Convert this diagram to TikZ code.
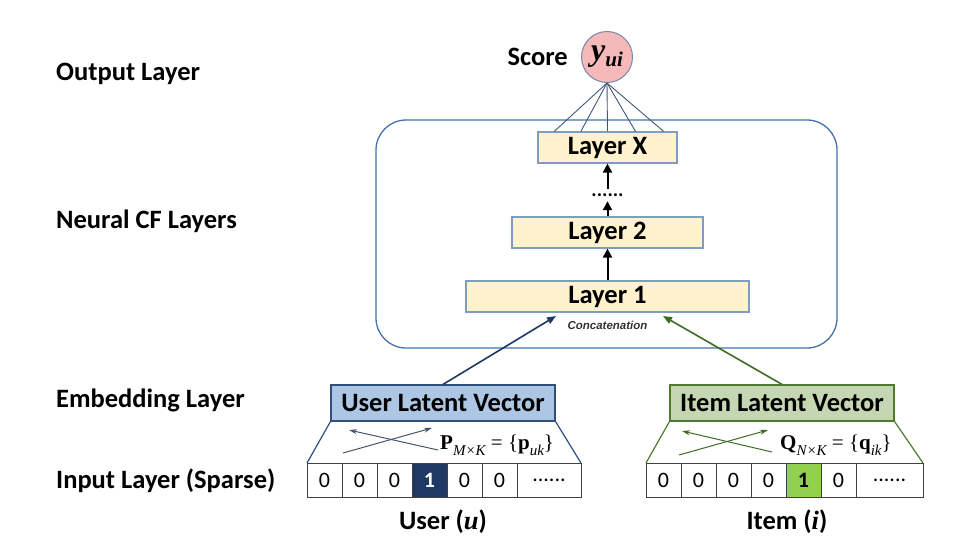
\documentclass[tikz,border=0pt]{standalone}
\usepackage{fontspec}
\setmainfont{Carlito}
\newfontfamily\tnr{Liberation Serif}
\newfontfamily\arialfont{Liberation Sans}
\usetikzlibrary{arrows.meta, calc, positioning}
\definecolor{layerfill}{HTML}{FFF2CC}
\definecolor{layerline}{HTML}{7F9DC4}
\definecolor{cfline}{HTML}{4472A8}
\definecolor{scorefill}{HTML}{F6B9B9}
\definecolor{scoreline}{HTML}{7488AA}
\definecolor{navy}{HTML}{1F3864}
\definecolor{userfill}{HTML}{ADC6E4}
\definecolor{userline}{HTML}{2F4F7F}
\definecolor{itemfill}{HTML}{C4D7B2}
\definecolor{itemline}{HTML}{4E7A2F}
\definecolor{darkgreen}{HTML}{3F6B27}
\definecolor{brightgreen}{HTML}{92D050}
\definecolor{crossgray}{HTML}{44546A}
\newcommand{\bigfont}{\fontsize{26.5}{31}\selectfont\bfseries}
\newcommand{\cellfont}{\fontsize{22}{26}\selectfont}
\newcommand{\sbs}[1]{\raisebox{-0.3em}{\fontsize{15}{15}\selectfont\itshape #1}}

\begin{document}
\begin{tikzpicture}[x=1pt, y=-1pt, font=\bigfont,
	layerbox/.style={draw=layerline, fill=layerfill, line width=1.2pt, inner sep=0pt, minimum height=31pt},
	latentbox/.style={line width=1.2pt, inner sep=0pt, minimum width=224pt, minimum height=36pt},
	cell/.style={draw=black!75, line width=0.8pt, minimum width=35pt, minimum height=34pt, inner sep=0pt, outer sep=0pt, font=\cellfont},
	ucell/.style={cell, fill=navy, text=white, font=\cellfont\bfseries},
	icell/.style={cell, fill=brightgreen, font=\cellfont\bfseries},
	uparrow/.style={-{Triangle[length=9pt, width=9pt]}, line width=2pt},
	cross/.style={-{Stealth[length=8pt, width=5pt]}, line width=1pt},
	sidelabel/.style={anchor=west, inner sep=0pt}]
	\useasboundingbox (0,0) rectangle (973,551);

	% side labels
	\node[sidelabel] (outl) at (56,74) {Output Layer};
	\node[sidelabel] (cfl) at (56,221) {Neural CF Layers};
	\node[sidelabel] (embl) at (56,400) {Embedding Layer};
	\node[sidelabel] (inl) at (56,481) {Input Layer (Sparse)};

	% neural CF layers
	\draw[cfline, line width=1.3pt, rounded corners=30pt] (376,120) rectangle (837,348);
	\node[layerbox, minimum width=139pt] (lx) at (607.5,147.5) {Layer X};
	\node[inner sep=0pt, minimum height=12pt, font=\fontsize{20}{24}\selectfont\bfseries] (dots) at (607.5,195) {......};
	\node[layerbox, minimum width=191pt] (l2) at (607.5,232.5) {Layer 2};
	\node[layerbox, minimum width=283pt] (l1) at (607.5,296.5) {Layer 1};
	\node[font=\arialfont\fontsize{11.5}{13}\selectfont\bfseries\itshape, text=black!80] (concat) at (607.5,325) {Concatenation};
	\draw[uparrow] (l1.north) -- (l2.south);
	\draw[uparrow] (l2.north) -- (dots.south);
	\draw[uparrow] (dots.north) -- (lx.south);

	% output
	\node[circle, draw=scoreline, fill=scorefill, line width=1pt, minimum size=51pt, inner sep=0pt] (yui) at (607,57)
		{\tnr\itshape\fontsize{32}{32}\selectfont y\raisebox{-6pt}{\bfseries\fontsize{21}{21}\selectfont ui}};
	\node[left=13pt of yui, inner sep=0pt] (score) {Score};
	\foreach \f in {0.12, 0.31, 0.5, 0.7, 0.9}
		\draw[navy!85, line width=0.9pt] (yui.south) -- ($(lx.north west)!\f!(lx.north east)$);

	% embedding
	\node[latentbox, draw=userline, fill=userfill] (ulv) at (443,403) {User Latent Vector};
	\node[latentbox, draw=itemline, fill=itemfill] (ilv) at (782,403) {Item Latent Vector};
	\coordinate (ucat) at (556,316);
	\coordinate (icat) at (663,316);
	\draw[-{Triangle[length=9pt, width=7pt]}, navy, line width=1.6pt] (ulv.north) -- (ucat);
	\draw[-{Triangle[length=9pt, width=7pt]}, darkgreen, line width=1.6pt] (ilv.north) -- (icat);

	% sparse input
	\foreach \v/\s [count=\i] in {0/cell, 0/cell, 0/cell, 1/ucell, 0/cell, 0/cell}
		\node[\s] (u\i) at ({289.5+35*\i},480) {\v};
	\node[cell, minimum width=64pt, anchor=west] (u7) at (u6.east) {......};
	\foreach \v/\s [count=\i] in {0/cell, 0/cell, 0/cell, 0/cell, 1/icell, 0/cell}
		\node[\s] (i\i) at ({628.5+35*\i},480) {\v};
	\node[cell, minimum width=67pt, anchor=west] (i7) at (i6.east) {......};

	\draw[userline, line width=1.2pt] (ulv.south west) -- (u1.north west);
	\draw[userline, line width=1.2pt] (ulv.south east) -- (u7.north east);
	\draw[itemline, line width=1.2pt] (ilv.south west) -- (i1.north west);
	\draw[itemline, line width=1.2pt] (ilv.south east) -- (i7.north east);

	% embedding matrices
	\coordinate (ua) at (343,453); \coordinate (ub) at (432,428);
	\coordinate (uc) at (438,450); \coordinate (ud) at (349,430);
	\draw[cross, crossgray] (ua) -- (ub);
	\draw[cross, crossgray] (uc) -- (ud);
	\coordinate (ia) at (679,455); \coordinate (ib) at (768,430);
	\coordinate (ic) at (772,452); \coordinate (id) at (682,431);
	\draw[cross, darkgreen] (ia) -- (ib);
	\draw[cross, darkgreen] (ic) -- (id);
	\node[anchor=base west, inner sep=0pt, font=\tnr\fontsize{21}{24}\selectfont] (pmat) at (440,449)
		{\textbf{P}\sbs{M×K} = \{\textbf{p}\sbs{uk}\}};
	\node[anchor=base west, inner sep=0pt, font=\tnr\fontsize{21}{24}\selectfont] (qmat) at (780,449)
		{\textbf{Q}\sbs{N×K} = \{\textbf{q}\sbs{ik}\}};

	% ids
	\node (user) at (443,522) {User ({\tnr\itshape u})};
	\node (item) at (787,522) {Item ({\tnr\itshape i})};
\end{tikzpicture}
\end{document}
